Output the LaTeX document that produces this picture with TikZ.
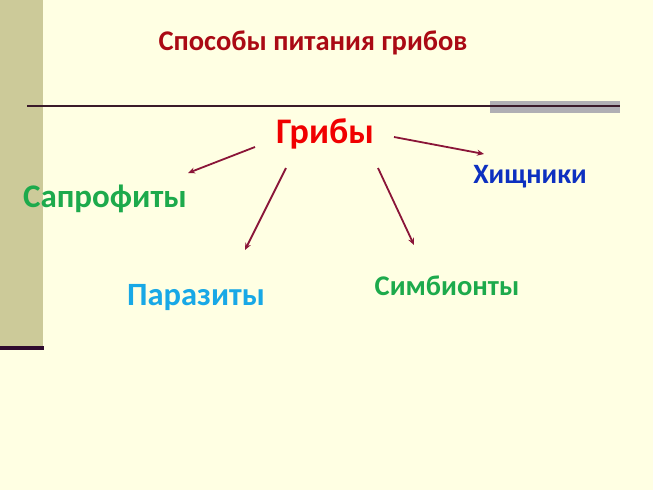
\documentclass[tikz,border=0pt]{standalone}
\usepackage{fontspec}
\setmainfont{Carlito}
\usetikzlibrary{arrows.meta}
\definecolor{bg}{HTML}{FFFFE3}
\definecolor{barc}{HTML}{CCCA99}
\definecolor{darkline}{HTML}{2E0A2E}
\definecolor{rule}{HTML}{3A1A2A}
\definecolor{graybar}{HTML}{B0AFB4}
\definecolor{titlec}{HTML}{AA0A14}
\definecolor{redc}{HTML}{F00000}
\definecolor{greenc}{HTML}{1DAA4C}
\definecolor{bluec}{HTML}{0D30C0}
\definecolor{cyanc}{HTML}{18A8E6}
\definecolor{arrc}{HTML}{8A1538}
\tikzset{
  lbl/.style={inner sep=0pt, anchor=base, font=\bfseries},
  arr/.style={draw=arrc, line width=1.8pt, -{Stealth[length=7pt,width=6pt]}}
}
\begin{document}
\begin{tikzpicture}[x=1pt,y=-1pt]
\fill[bg] (0,0) rectangle (653,490);
\useasboundingbox (0,0) rectangle (653,490);
\fill[barc] (0,0) rectangle (43,347);
\fill[darkline] (0,346) rectangle (44,350);
\fill[graybar] (490,101) rectangle (620,113);
\draw[rule, line width=1.2pt] (27,106) -- (620,106);
\node[lbl, text=titlec, font=\fontsize{28.5}{34}\selectfont\bfseries] (title) at (313,50) {Способы питания грибов};
\node[lbl, text=redc, font=\fontsize{36}{42}\selectfont\bfseries] (griby) at (325,143) {Грибы};
\node[lbl, text=greenc, font=\fontsize{33}{40}\selectfont\bfseries] (sapr) at (105,207) {Сапрофиты};
\node[lbl, text=bluec, font=\fontsize{28}{34}\selectfont\bfseries] (hisch) at (530,183) {Хищники};
\node[lbl, text=cyanc, font=\fontsize{32.5}{38}\selectfont\bfseries] (paraz) at (196,305) {Паразиты};
\node[lbl, text=greenc, font=\fontsize{28.5}{34}\selectfont\bfseries] (simb) at (447,295) {Симбионты};
\coordinate (a1s) at (255,147);
\coordinate (a1e) at (188,173);
\coordinate (a2s) at (286,168);
\coordinate (a2e) at (245,250);
\coordinate (a3s) at (378,168);
\coordinate (a3e) at (414,245);
\coordinate (a4s) at (394,137);
\coordinate (a4e) at (484,154);
\draw[arr] (a1s) -- (a1e);
\draw[arr] (a2s) -- (a2e);
\draw[arr] (a3s) -- (a3e);
\draw[arr] (a4s) -- (a4e);
\end{tikzpicture}
\end{document}
